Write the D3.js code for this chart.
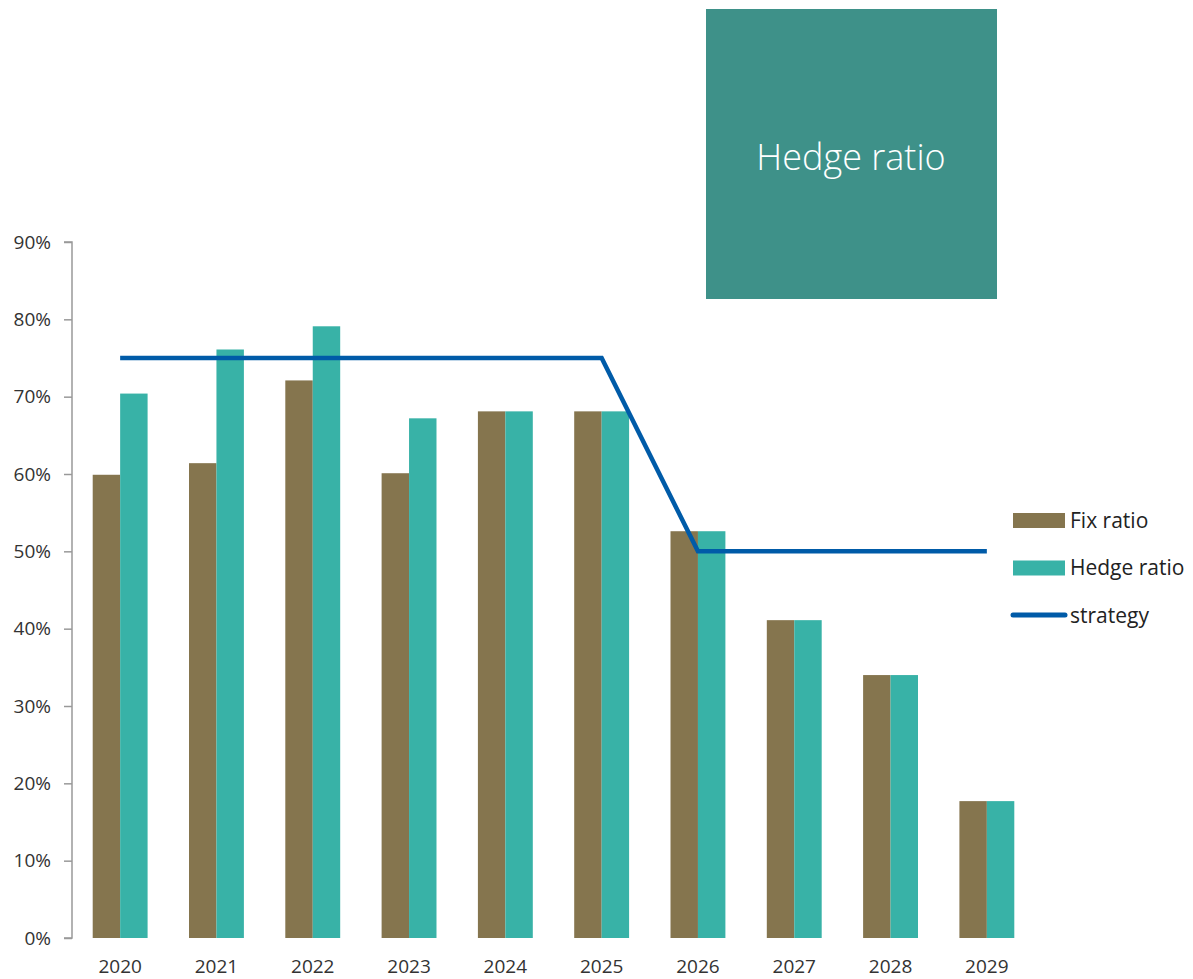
<!DOCTYPE html>
<html>
<head>
<meta charset="utf-8">
<script src="https://cdn.jsdelivr.net/npm/d3@7"></script>
<style>
  body { margin: 0; background: #fff; }
  svg text { font-family: "Open Sans", "Noto Sans", sans-serif; }
</style>
</head>
<body>
<svg id="chart" width="1193" height="979"></svg>
<script>
// data
const years = ["2020", "2021", "2022", "2023", "2024", "2025", "2026", "2027", "2028", "2029"]
const fix_ratio = [59.9, 61.4, 72.1, 60.1, 68.1, 68.1, 52.6, 41.1, 34.0, 17.7]
const hedge_ratio = [70.4, 76.1, 79.1, 67.2, 68.1, 68.1, 52.6, 41.1, 34.0, 17.7]
const strategy = [75, 75, 75, 75, 75, 75, 50, 50, 50, 50]
const y_ticks = [0, 10, 20, 30, 40, 50, 60, 70, 80, 90]

const col_fix = "#85754e"
const col_hedge = "#38b2a7"
const col_line = "#005ba8"

const svg = d3.select("#chart")

const x = d3.scaleBand().domain(years).range([72, 1035]).paddingInner(0.43).paddingOuter(0.215)
const xs = d3.scaleBand().domain(["fix", "hedge"]).range([0, x.bandwidth()])
const y = d3.scaleLinear().domain([0, 90]).range([938, 242])

// y axis
const yAxis = svg.append("g")
  .attr("transform", "translate(72,0)")
  .call(d3.axisLeft(y).tickValues(y_ticks).tickSize(8).tickPadding(13).tickFormat(d => d + "%"))
yAxis.select(".domain").attr("stroke", "#999").attr("stroke-width", 1.5).attr("d", "M-8,242H0V938H-8")
yAxis.selectAll(".tick line").attr("stroke", "#999").attr("stroke-width", 1.5)
yAxis.selectAll(".tick text").attr("font-size", 19).attr("fill", "#333")

// year labels
svg.append("g").selectAll("text")
  .data(years)
  .join("text")
  .attr("x", d => x(d) + x.bandwidth() / 2)
  .attr("y", 973)
  .attr("text-anchor", "middle")
  .attr("font-size", 19)
  .attr("fill", "#333")
  .text(d => d)

// bars
const groups = svg.append("g").selectAll("g")
  .data(years.map((d, i) => ({year: d, fix: fix_ratio[i], hedge: hedge_ratio[i]})))
  .join("g")
  .attr("transform", d => "translate(" + x(d.year) + ",0)")

groups.append("rect")
  .attr("x", xs("fix")).attr("width", xs.bandwidth())
  .attr("y", d => y(d.fix)).attr("height", d => y(0) - y(d.fix))
  .attr("fill", col_fix)

groups.append("rect")
  .attr("x", xs("hedge")).attr("width", xs.bandwidth())
  .attr("y", d => y(d.hedge)).attr("height", d => y(0) - y(d.hedge))
  .attr("fill", col_hedge)

// strategy line
const line = d3.line()
  .x((d, i) => x(years[i]) + x.bandwidth() / 2)
  .y(d => y(d))

svg.append("path")
  .datum(strategy)
  .attr("d", line)
  .attr("fill", "none")
  .attr("stroke", col_line)
  .attr("stroke-width", 4.5)

// title box
svg.append("rect")
  .attr("x", 706).attr("y", 9).attr("width", 291).attr("height", 290)
  .attr("fill", "#3e9189")
svg.append("text")
  .attr("x", 851).attr("y", 170)
  .attr("text-anchor", "middle")
  .attr("font-size", 36)
  .attr("font-weight", 300)
  .attr("fill", "#fff")
  .text("Hedge ratio")

// legend
const legend = [
  {name: "Fix ratio", color: col_fix, type: "rect"},
  {name: "Hedge ratio", color: col_hedge, type: "rect"},
  {name: "strategy", color: col_line, type: "line"}
]
const lg = svg.append("g").selectAll("g")
  .data(legend)
  .join("g")
  .attr("transform", (d, i) => "translate(1013," + (520 + i * 47.5) + ")")

lg.filter(d => d.type == "rect").append("rect")
  .attr("x", 0).attr("y", -7).attr("width", 52).attr("height", 15)
  .attr("fill", d => d.color)
lg.filter(d => d.type == "line").append("line")
  .attr("x1", 0).attr("x2", 52).attr("y1", 0).attr("y2", 0)
  .attr("stroke", d => d.color).attr("stroke-width", 5).attr("stroke-linecap", "round")
lg.append("text")
  .attr("x", 57).attr("y", 7.5)
  .attr("font-size", 21)
  .attr("fill", "#222")
  .text(d => d.name)
</script>
</body>
</html>
